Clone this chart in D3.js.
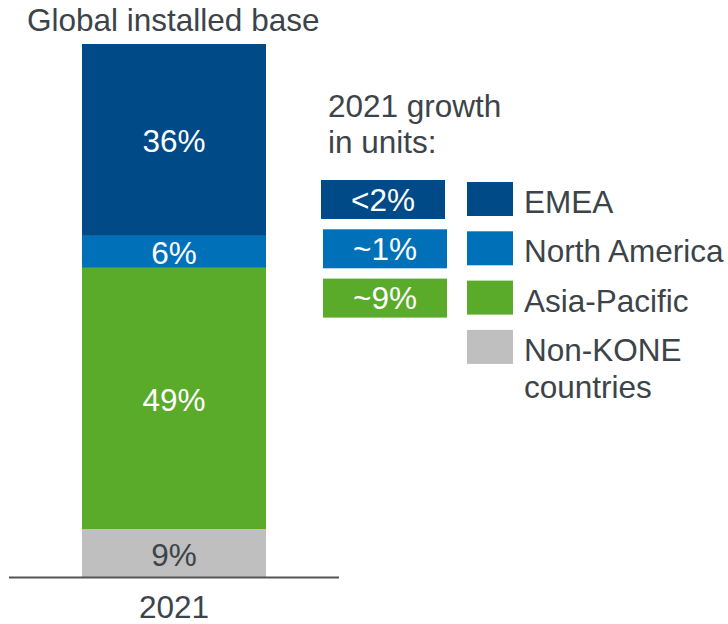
<!DOCTYPE html>
<html>
<head>
<meta charset="utf-8">
<script src="https://cdn.jsdelivr.net/npm/d3@7"></script>
<style>
  body { margin: 0; background: #fff; }
  svg text { font-family: "Liberation Sans", Arial, sans-serif; }
</style>
</head>
<body>
<svg width="728" height="624"></svg>
<script>
// data
var regions = ["EMEA", "North America", "Asia-Pacific", "Non-KONE countries"];
var shares = [36, 6, 49, 9];
var growth = ["<2%", "~1%", "~9%"];
var colors = ["#004a87", "#0071b9", "#5aab2a", "#bfbfbf"];
var year = "2021";

(function () {
    'use strict';

    var svg = d3.select("svg");
    var textColor = "#3c4449";
    var fs = 31.5;

    // stack the shares from top down
    var stacked = [];
    var acc = 0;
    shares.forEach(function (v, i) {
        stacked.push({ name: regions[i], value: v, y0: acc, y1: acc + v, color: colors[i] });
        acc += v;
    });

    var x = d3.scaleBand().domain([year]).range([82, 266]).padding(0);
    var y = d3.scaleLinear().domain([0, 100]).range([44, 577]);

    svg.append("text")
        .attr("x", 27).attr("y", 31)
        .attr("font-size", fs).attr("fill", textColor)
        .text("Global installed base");

    var seg = svg.selectAll(".seg").data(stacked).enter().append("g").attr("class", "seg");

    seg.append("rect")
        .attr("x", x(year))
        .attr("width", x.bandwidth())
        .attr("y", function (d) { return y(d.y0); })
        .attr("height", function (d) { return y(d.y1) - y(d.y0); })
        .attr("fill", function (d) { return d.color; });

    seg.append("text")
        .attr("x", x(year) + x.bandwidth() / 2)
        .attr("y", function (d) { return (y(d.y0) + y(d.y1)) / 2 + 12.5; })
        .attr("text-anchor", "middle")
        .attr("font-size", fs)
        .attr("fill", function (d, i) { return i === 3 ? textColor : "#fff"; })
        .text(function (d) { return d.value + "%"; });

    // baseline + axis label
    svg.append("line")
        .attr("x1", 9).attr("x2", 339)
        .attr("y1", y(100) + 0.5).attr("y2", y(100) + 0.5)
        .attr("stroke", "#555").attr("stroke-width", 2);

    svg.append("text")
        .attr("x", x(year) + x.bandwidth() / 2).attr("y", 618)
        .attr("text-anchor", "middle")
        .attr("font-size", fs).attr("fill", textColor)
        .text(year);

    // growth header
    svg.append("text")
        .attr("x", 328).attr("y", 117)
        .attr("font-size", fs).attr("fill", textColor)
        .selectAll("tspan")
        .data(["2021 growth", "in units:"])
        .enter().append("tspan")
        .attr("x", 328)
        .attr("dy", function (d, i) { return i ? 36 : 0; })
        .text(function (d) { return d; });

    var rowY = d3.scaleBand().domain(d3.range(4)).range([180, 180 + 49.3 * 3.8]).paddingInner(0.2);

    // growth boxes
    var gb = svg.selectAll(".growth").data(growth).enter().append("g").attr("class", "growth");
    gb.append("rect")
        .attr("x", function (d, i) { return i ? 323 : 321; })
        .attr("y", function (d, i) { return rowY(i); })
        .attr("width", 124)
        .attr("height", 39)
        .attr("fill", function (d, i) { return colors[i]; });
    gb.append("text")
        .attr("x", function (d, i) { return (i ? 323 : 321) + 62; })
        .attr("y", function (d, i) { return rowY(i) + 30.5; })
        .attr("text-anchor", "middle")
        .attr("font-size", fs).attr("fill", "#fff")
        .text(function (d) { return d; });

    // legend
    var lg = svg.selectAll(".legend").data(regions).enter().append("g").attr("class", "legend");
    lg.append("rect")
        .attr("x", 467)
        .attr("y", function (d, i) { return rowY(i) + 2; })
        .attr("width", 46).attr("height", 34)
        .attr("fill", function (d, i) { return colors[i]; });
    lg.append("text")
        .attr("x", 524)
        .attr("y", function (d, i) { return rowY(i) + 33; })
        .attr("font-size", fs).attr("fill", textColor)
        .each(function (d) {
            var t = d3.select(this);
            var parts = d === "Non-KONE countries" ? ["Non-KONE", "countries"] : [d];
            parts.forEach(function (p, j) {
                t.append("tspan").attr("x", 524).attr("dy", j ? 37 : 0).text(p);
            });
        });
}());
</script>
</body>
</html>
